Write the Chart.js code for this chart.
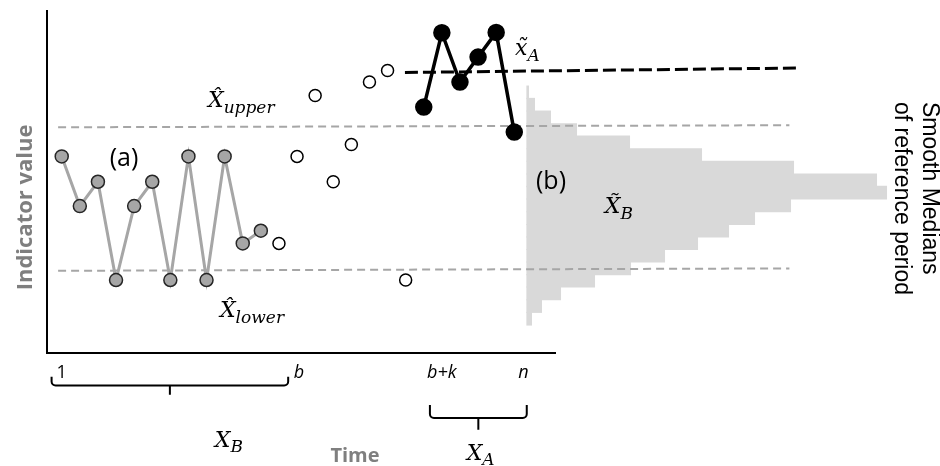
<!DOCTYPE html>
<html>
<head>
<meta charset="utf-8">
<script src="https://cdn.jsdelivr.net/npm/chart.js@4/dist/chart.umd.min.js"></script>
<style>
  html, body { margin: 0; background: #fff; }
  #wrap { width: 940px; height: 466px; }
</style>
</head>
<body>
<div id="wrap"><canvas id="chart"></canvas></div>
<script>
// reference period (grey dots), points in between (open), recent period (black)
const refTime = [0, 1, 2, 3, 4, 5, 6, 7, 8, 9, 10, 11];
const refValues = [57.4, 42.9, 50, 21.3, 42.9, 50, 21.3, 57.4, 21.3, 57.4, 32, 35.7];
const midTime = [12, 13, 14, 15, 16, 17, 18, 19];
const midValues = [32, 57.4, 75.2, 50, 60.9, 79.1, 82.5, 21.3];
const recentTime = [20, 21, 22, 23, 24, 25];
const recentValues = [71.8, 93.5, 79.1, 86.4, 93.6, 64.5];

// limits and median of recent period
const limitTime = [-0.2, 40.2];
const upperLimit = [65.9, 66.5];
const lowerLimit = [24.0, 24.7];
const medianTime = [18.96, 40.6];
const medianRecent = [81.9, 83.2];

// histogram of smooth medians of reference period
const binCenters = [78.0, 74.4, 70.7, 67.0, 63.4, 59.7, 56.0, 52.3, 48.7, 45.0, 41.3, 37.6, 34.0, 30.3, 26.6, 23.0, 19.3, 15.6, 11.9];
const binCounts = [0.2, 0.8, 2.4, 5.0, 10.3, 17.5, 26.7, 35.0, 36.0, 26.4, 22.8, 20.2, 17.1, 13.8, 10.4, 6.8, 3.4, 1.5, 0.5];

// x axis ticks
const tickTimes = [0, 13.1, 21, 25.5];
const tickLabels = ['1', 'b', 'b+k', 'n'];

function pts(xs, ys) {
  return xs.map((x, i) => ({ x: x, y: ys[i] }));
}

const MATH = '"DejaVu Serif", serif';
const SANS = '"Open Sans", Lato, sans-serif';

function drawMath(ctx, x, y, main, sub, size) {
  ctx.font = 'italic ' + size + 'px ' + MATH;
  ctx.textAlign = 'left';
  ctx.textBaseline = 'alphabetic';
  ctx.fillText(main, x, y);
  const w = ctx.measureText(main).width;
  ctx.font = 'italic ' + Math.round(size * 0.75) + 'px ' + MATH;
  ctx.fillText(sub, x + w, y + size * 0.25);
}

function bracket(ctx, x1, x2, top, bar, tip) {
  const r = 4;
  const mid = (x1 + x2) / 2;
  ctx.beginPath();
  ctx.moveTo(x1, top);
  ctx.arcTo(x1, bar, x1 + r, bar, r);
  ctx.lineTo(x2 - r, bar);
  ctx.arcTo(x2, bar, x2, top, r);
  ctx.lineTo(x2, top);
  ctx.moveTo(mid, bar);
  ctx.lineTo(mid, tip);
  ctx.stroke();
}

// labels, braces and the side titles
const annotations = {
  id: 'annotations',
  afterDatasetsDraw(chart) {
    const ctx = chart.ctx;
    const xs = chart.scales.x;
    const ys = chart.scales.y;
    const X = v => xs.getPixelForValue(v);
    const Y = v => ys.getPixelForValue(v);
    ctx.save();
    ctx.fillStyle = '#000';

    ctx.font = '25px ' + SANS;
    ctx.textAlign = 'center';
    ctx.textBaseline = 'middle';
    ctx.fillText('(a)', X(3.44), Y(56.7));
    ctx.fillText('(b)', X(27.03), Y(50.1));

    drawMath(ctx, X(8.08), Y(71.7), 'X\u0302', 'upper', 22);
    drawMath(ctx, X(8.74), Y(10.5), 'X\u0302', 'lower', 22);
    drawMath(ctx, X(25.04), Y(86.9), 'x\u0303', 'A', 22);
    drawMath(ctx, X(30.0), Y(40.8), 'X\u0303', 'B', 22);
    drawMath(ctx, X(8.46), Y(-27.3), 'X', 'B', 22);
    drawMath(ctx, X(22.37), Y(-31.2), 'X', 'A', 22);

    ctx.fillStyle = '#7f7f7f';
    ctx.font = 'bold 20px ' + SANS;
    ctx.textAlign = 'center';
    ctx.textBaseline = 'alphabetic';
    ctx.fillText('Time', X(16.2), Y(-31.7));

    ctx.save();
    ctx.font = 'bold 22px ' + SANS;
    ctx.textBaseline = 'middle';
    ctx.translate(26, Y(42.5));
    ctx.rotate(-Math.PI / 2);
    ctx.fillText('Indicator value', 0, 0);
    ctx.restore();

    ctx.strokeStyle = '#000';
    ctx.lineWidth = 2;
    bracket(ctx, X(-0.56), X(12.51), Y(-6.9), Y(-9.5), Y(-12.2));
    bracket(ctx, X(20.34), X(25.69), Y(-15.2), Y(-19.0), Y(-22.4));

    ctx.fillStyle = '#000';
    ctx.font = '23px "Liberation Sans", Arial, sans-serif';
    ctx.textAlign = 'left';
    ctx.textBaseline = 'middle';
    [['Smooth Medians', 11], ['of reference period', 39]].forEach(([txt, off]) => {
      ctx.save();
      ctx.translate(chart.width - off, 102);
      ctx.rotate(Math.PI / 2);
      ctx.fillText(txt, 0, 0);
      ctx.restore();
    });
    ctx.restore();
  }
};

new Chart(document.getElementById('chart'), {
  type: 'line',
  data: {
    datasets: [
      {
        data: pts(refTime, refValues),
        borderColor: '#a6a6a6',
        borderWidth: 3,
        pointRadius: 6.5,
        pointBackgroundColor: '#a6a6a6',
        pointBorderColor: '#262626',
        pointBorderWidth: 1.5,
        order: 1
      },
      {
        data: pts(midTime, midValues),
        showLine: false,
        pointRadius: 6,
        pointBackgroundColor: '#fff',
        pointBorderColor: '#000',
        pointBorderWidth: 1.5,
        order: 1
      },
      {
        data: pts(recentTime, recentValues),
        borderColor: '#000',
        borderWidth: 3.5,
        pointRadius: 7,
        pointBackgroundColor: '#000',
        pointBorderColor: '#000',
        order: 1
      },
      {
        data: pts(limitTime, upperLimit),
        borderColor: '#a6a6a6',
        borderWidth: 2,
        borderDash: [8, 5],
        pointRadius: 0,
        clip: false,
        order: 3
      },
      {
        data: pts(limitTime, lowerLimit),
        borderColor: '#a6a6a6',
        borderWidth: 2,
        borderDash: [8, 5],
        pointRadius: 0,
        clip: false,
        order: 3
      },
      {
        data: pts(medianTime, medianRecent),
        borderColor: '#000',
        borderWidth: 3,
        borderDash: [13, 5],
        pointRadius: 0,
        clip: false,
        order: 2
      },
      {
        type: 'bar',
        indexAxis: 'y',
        xAxisID: 'xh',
        yAxisID: 'y',
        data: binCenters.map((c, i) => ({ x: binCounts[i], y: c })),
        backgroundColor: '#d9d9d9',
        borderWidth: 0,
        barThickness: 13,
        clip: false,
        order: 5
      }
    ]
  },
  options: {
    responsive: true,
    maintainAspectRatio: false,
    animation: false,
    events: [],
    layout: { padding: { left: 46.7, right: 385, top: 10, bottom: 73.4 } },
    plugins: { legend: { display: false }, tooltip: { enabled: false } },
    elements: { line: { tension: 0 } },
    scales: {
      x: {
        type: 'linear',
        min: -0.83,
        max: 27.25,
        offset: false,
        grid: { display: false, drawTicks: false },
        border: { color: '#000', width: 2 },
        afterBuildTicks: scale => { scale.ticks = tickTimes.map(v => ({ value: v })); },
        ticks: {
          autoSkip: false,
          maxRotation: 0,
          padding: 9,
          color: '#000',
          font: c => ({ family: SANS, size: 18, style: c.index === 0 ? 'normal' : 'italic' }),
          callback: (v, i) => tickLabels[i]
        }
      },
      xh: { type: 'linear', axis: 'x', display: false, offset: false, min: -48.0, max: 2.83 },
      y: {
        type: 'linear',
        min: 0,
        max: 100,
        offset: false,
        grid: { display: false, drawTicks: false, offset: false },
        border: { color: '#000', width: 2 },
        ticks: { display: false }
      }
    }
  },
  plugins: [annotations]
});
</script>
</body>
</html>
